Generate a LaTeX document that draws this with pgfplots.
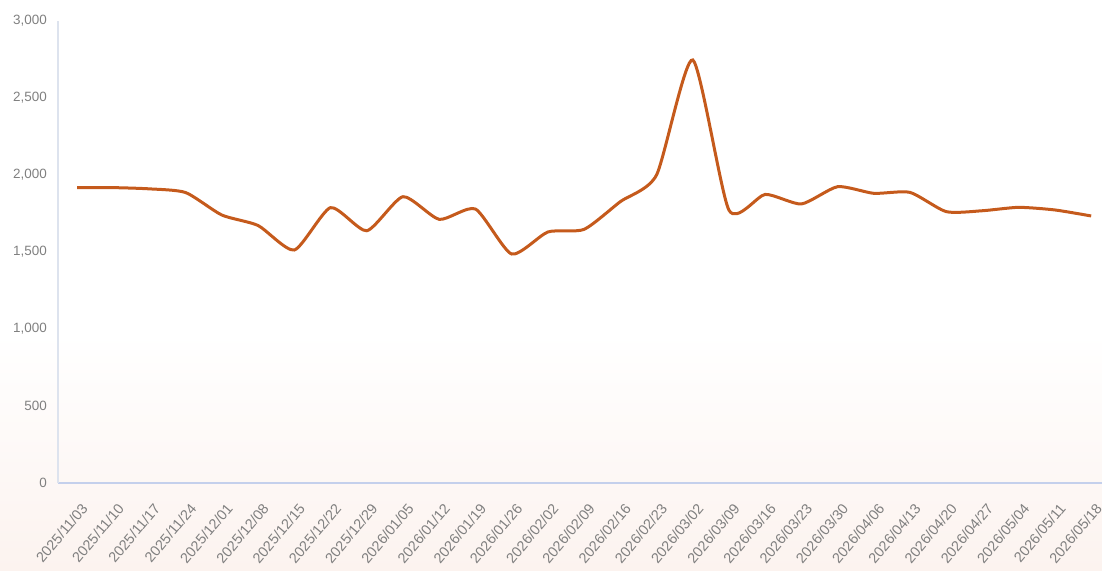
\documentclass[border=0pt]{standalone}
\usepackage{pgfplots}
\pgfplotsset{compat=1.18}
\usepackage{fontspec}
\setmainfont{Liberation Sans}
\definecolor{linec}{RGB}{197,90,28}
\definecolor{tickc}{RGB}{128,128,128}
\definecolor{yaxc}{RGB}{221,227,238}
\definecolor{xaxc}{RGB}{196,208,236}
\definecolor{bgp}{RGB}{252,243,239}
\begin{document}
\begin{tikzpicture}
\fill[top color=white, bottom color=bgp] (-58bp,-87bp) rectangle (1044bp,150bp);
\begin{axis}[
  name=ax,
  at={(0,0)}, anchor=south west,
  scale only axis,
  width=1044bp, height=462bp,
  xmin=-0.525, xmax=28.3,
  ymin=0, ymax=3000,
  axis x line*=bottom, axis y line*=left,
  x axis line style={draw=xaxc, line width=1.6bp, -},
  y axis line style={draw=yaxc, line width=1.6bp, -},
  major tick length=0pt,
  xtick={0,...,28},
  xticklabels={2025/11/03,2025/11/10,2025/11/17,2025/11/24,2025/12/01,2025/12/08,2025/12/15,2025/12/22,2025/12/29,2026/01/05,2026/01/12,2026/01/19,2026/01/26,2026/02/02,2026/02/09,2026/02/16,2026/02/23,2026/03/02,2026/03/09,2026/03/16,2026/03/23,2026/03/30,2026/04/06,2026/04/13,2026/04/20,2026/04/27,2026/05/04,2026/05/11,2026/05/18},
  ytick={0,500,...,3000},
  ticklabel style={text=tickc, inner sep=0pt},
  yticklabel style={font=\fontsize{13.5}{15}\selectfont, anchor=east, xshift=-11bp},
  xticklabel style={font=\fontsize{14.5}{16}\selectfont, anchor=north east, xshift=3.5bp, yshift=-19bp, rotate=50},
  /pgf/number format/.cd, 1000 sep={,}, assume math mode=true,
]
\draw[xaxc, opacity=0.35, line width=4bp] (axis cs:-0.525,0) ++(0,-1.5bp) -- ([yshift=-1.5bp]axis cs:28.3,0);
\addplot[linec, line width=3bp, smooth, tension=0.38] coordinates {
(0,1918) (1,1918) (2,1910) (3,1886) (4,1740) (5,1672) (6,1513) (7,1788)
(8,1638) (9,1859) (10,1712) (11,1779) (12,1487) (13,1630) (14,1647)
(15,1827) (16,2000) (17,2747) (18,1772) (19,1874) (20,1812) (21,1924)
(22,1881) (23,1887) (24,1762) (25,1768) (26,1790) (27,1773) (28,1734)
};
\end{axis}
\pgfresetboundingbox
\path ([xshift=-58bp,yshift=-87bp]ax.south west) rectangle ([yshift=21bp]ax.north east);
\end{tikzpicture}
\end{document}
